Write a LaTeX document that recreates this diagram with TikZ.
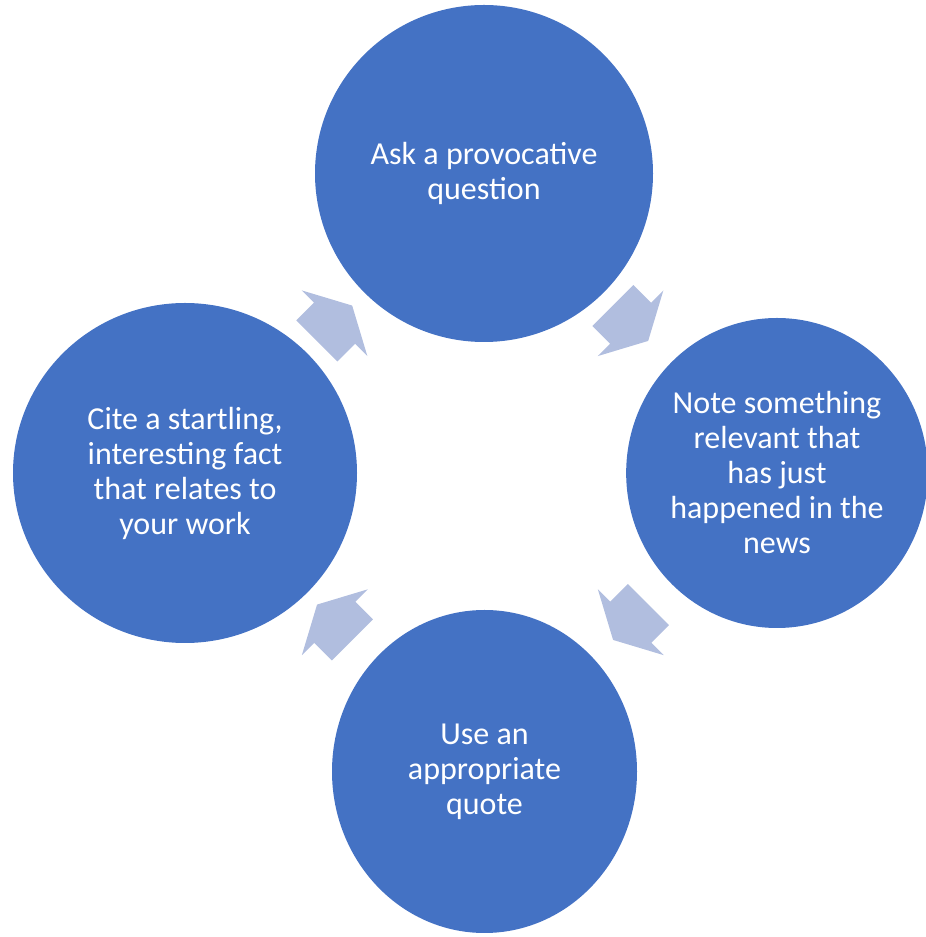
\documentclass[tikz,border=0pt]{standalone}
\usepackage{fontspec}
\setmainfont{Carlito}
\usetikzlibrary{shapes.geometric,calc}
\definecolor{circblue}{HTML}{4472C4}
\definecolor{arrblue}{HTML}{B1BEDF}

\begin{document}
\begin{tikzpicture}[x=1pt,y=1pt,
        bubble/.style={ellipse, fill=circblue, text=white, align=center,
            inner sep=0pt, font=\fontsize{32}{35}\selectfont},
        cyclearrow/.style={fill=arrblue}]
        \useasboundingbox (0,0) rectangle (926,937);

        \node[bubble, minimum width=338pt, minimum height=337pt] (ask) at (484,763.5)
            {Ask a provocative\\question};
        \node[bubble, minimum width=298pt, minimum height=310pt] (note) at (777,464)
            {Note something\\relevant that\\has just\\happened in the\\news};
        \node[bubble, minimum width=305pt, minimum height=323pt] (quote) at (484.5,165.5)
            {Use an\\appropriate\\quote};
        \node[bubble, minimum width=344pt, minimum height=340pt] (cite) at (185,464)
            {Cite a startling,\\interesting fact\\that relates to\\your work};

        % block arrows between the circles
        \foreach \from/\to/\ang in {cite/ask/45, ask/note/-45, note/quote/-135, quote/cite/135}
            \fill[cyclearrow, shift={($(\from)!0.5!(\to)$)}, rotate=\ang]
                (-25,29) -- (0,29) -- (0,46.5) -- (25,0) -- (0,-46.5) -- (0,-29) -- (-25,-29) -- cycle;
    \end{tikzpicture}
\end{document}
